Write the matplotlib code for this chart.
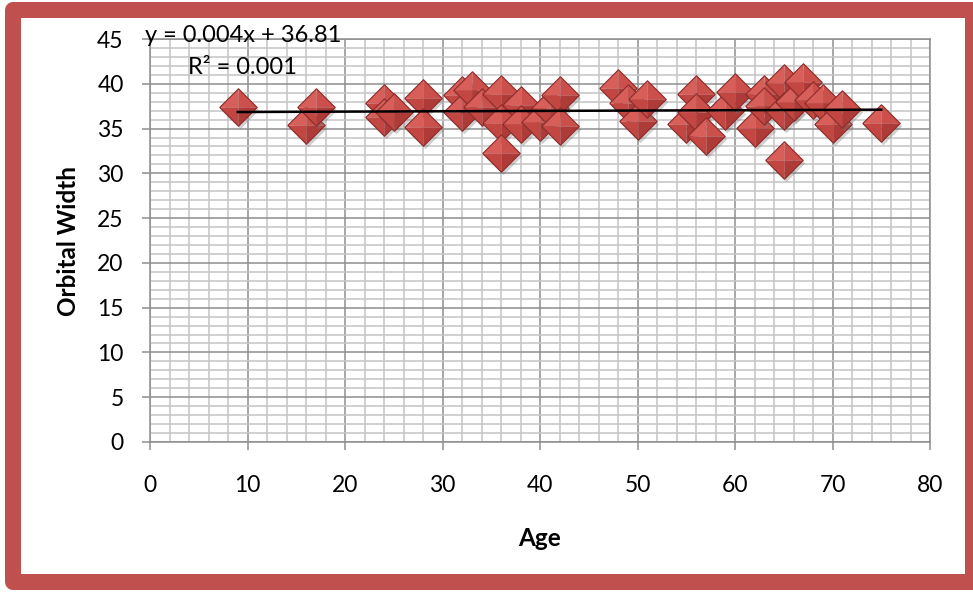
import numpy as np
import matplotlib
matplotlib.use("Agg")
import matplotlib.pyplot as plt
from matplotlib.patches import Rectangle
from matplotlib.ticker import MultipleLocator
from matplotlib.transforms import offset_copy

plt.rcParams.update({
    "font.family": ["Lato", "DejaVu Sans"],
    "font.size": 16.5,
})

# ── Data ─────────────────────────────────────────────────────
age = [9, 16, 17, 24, 24, 25, 28, 28, 32, 32, 33, 34, 36, 36, 36,
       38, 38, 40, 41, 42, 42, 48, 49, 50, 51, 55, 56, 56, 57, 59,
       60, 62, 63, 63, 65, 65, 65, 66, 67, 68, 69, 70, 71, 75]
orbital_width = [37.4, 35.4, 37.4, 37.9, 36.3, 36.8, 38.4, 35.2, 38.7, 36.8,
                 39.3, 37.4, 38.9, 35.6, 32.3, 37.6, 35.5, 35.7, 37.3, 38.8,
                 35.3, 39.5, 37.9, 35.8, 38.3, 35.5, 38.9, 36.8, 34.2, 37.0,
                 39.1, 35.1, 38.9, 37.5, 40.1, 37.0, 31.5, 38.0, 40.2, 38.2,
                 37.8, 35.5, 37.2, 35.6]

# linear trend as reported
slope = 0.004
intercept = 36.81
r_squared = 0.001

# ── Figure ───────────────────────────────────────────────────
fig = plt.figure(figsize=(9.73, 5.92), dpi=100)
ax = fig.add_axes([150 / 973, 1 - 442 / 592, 780 / 973, 403 / 592])

ax.set_xlim(0, 80)
ax.set_ylim(0, 45)
ax.xaxis.set_major_locator(MultipleLocator(10))
ax.xaxis.set_minor_locator(MultipleLocator(2))
ax.yaxis.set_major_locator(MultipleLocator(5))
ax.yaxis.set_minor_locator(MultipleLocator(1))

ax.grid(which="minor", color="#c4c4c4", linewidth=1.1, zorder=0)
ax.grid(which="major", color="#8e8e8e", linewidth=1.1, zorder=0)
ax.set_axisbelow(True)
for sp in ax.spines.values():
    sp.set_color("#8e8e8e")
    sp.set_linewidth(1.1)

ax.tick_params(which="major", length=6, width=1.1, color="#8e8e8e")
ax.tick_params(which="minor", length=0)
ax.tick_params(axis="x", pad=18)
ax.tick_params(axis="y", pad=13)

ax.set_xlabel("Age", fontweight="bold", fontsize=17.5, labelpad=22)
ax.set_ylabel("Orbital Width", fontweight="bold", fontsize=17.5, labelpad=12)

# ── Bevelled diamond markers ─────────────────────────────────
facets = [
    ([(0, 0), (-1, 0), (0, 1), (0, 0)], "#d85e59"),
    ([(0, 0), (0, 1), (1, 0), (0, 0)], "#cb4f4b"),
    ([(0, 0), (0, -1), (-1, 0), (0, 0)], "#c24642"),
    ([(0, 0), (1, 0), (0, -1), (0, 0)], "#ae3b38"),
]
outline = [(-1, 0), (0, 1), (1, 0), (0, -1), (-1, 0)]
msize = 27
shadow_tr = offset_copy(ax.transData, fig=fig, x=2, y=-3, units="dots")

for i, (xv, yv) in enumerate(zip(age, orbital_width)):
    z = 3 + i * 0.01
    ax.plot([xv], [yv], linestyle="none", marker=outline, markersize=msize,
            markerfacecolor="#7a7a7a", markeredgewidth=0, alpha=0.35,
            transform=shadow_tr, zorder=z)
    for verts, col in facets:
        ax.plot([xv], [yv], linestyle="none", marker=verts, markersize=msize,
                markerfacecolor=col, markeredgewidth=0, zorder=z + 0.001)
    ax.plot([xv], [yv], linestyle="none", marker=outline, markersize=msize,
            markerfacecolor="none", markeredgecolor="#8c2c2a",
            markeredgewidth=0.8, zorder=z + 0.002)

# trend line
xt = np.array([min(age), max(age)])
ax.plot(xt, slope * xt + intercept, color="black", linewidth=1.8, zorder=10)

ax.text(-0.5, 45.4, f"y = {slope}x + {intercept}", va="center", ha="left",
        fontsize=17, zorder=11, clip_on=False)
ax.text(3.9, 41.85, f"R² = {r_squared}", va="center", ha="left",
        fontsize=17, zorder=11)

# red frame
frame = Rectangle((13 / 973, 1 - 582 / 592), 960 / 973, 572 / 592,
                  transform=fig.transFigure, fill=False, edgecolor="#c0504d",
                  linewidth=16 * 72 / 100, joinstyle="round", zorder=20)
fig.patches.append(frame)

fig.savefig("out.png", dpi=100)
